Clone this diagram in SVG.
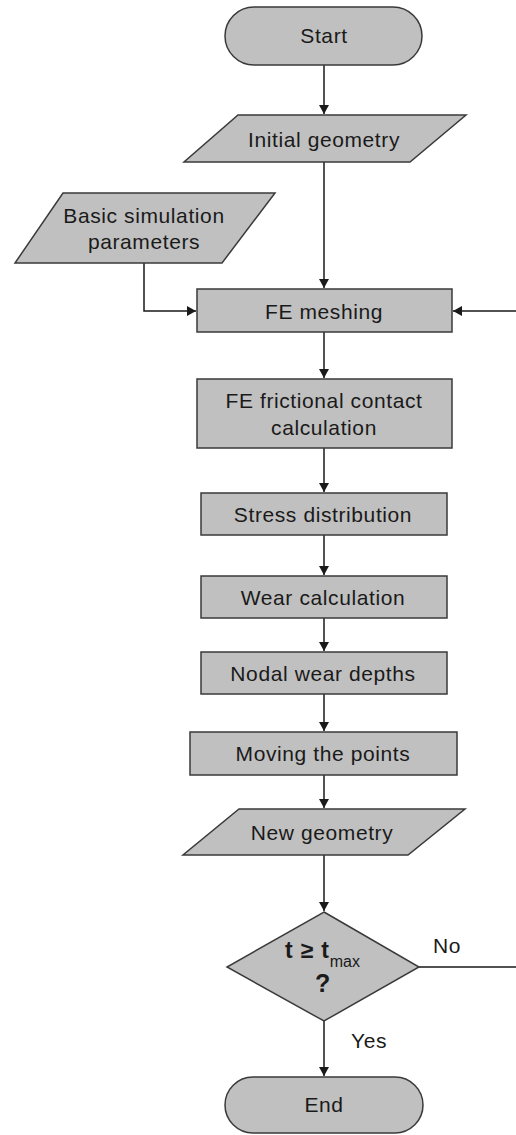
<svg xmlns="http://www.w3.org/2000/svg" width="516" height="1135" viewBox="0 0 516 1135">
<style>
.s{fill:#c0c0c0;stroke:#3a3a3a;stroke-width:1.5}
.t{font-family:"Liberation Sans",Arial,sans-serif;font-size:21px;fill:#1a1a1a;text-anchor:middle;letter-spacing:0.6px}
.c{fill:none;stroke:#1a1a1a;stroke-width:1.5}
.b{font-weight:bold;letter-spacing:0.8px}
</style>
<defs>
<marker id="ah" markerUnits="userSpaceOnUse" markerWidth="9" markerHeight="10" refX="9" refY="5" orient="auto">
<path d="M0,0 L9,5 L0,10 z" fill="#1a1a1a"/>
</marker>
</defs>
<rect width="516" height="1135" fill="#ffffff"/>
<g id="connectors">
<path class="c" d="M324,65 V114" marker-end="url(#ah)"/>
<path class="c" d="M324,162 V288" marker-end="url(#ah)"/>
<path class="c" d="M144,263 V311 H196" marker-end="url(#ah)"/>
<path class="c" d="M419,967 H522 V311 H453" marker-end="url(#ah)"/>
<path class="c" d="M324,332 V378" marker-end="url(#ah)"/>
<path class="c" d="M324,448 V492" marker-end="url(#ah)"/>
<path class="c" d="M324,535 V575" marker-end="url(#ah)"/>
<path class="c" d="M324,618 V651" marker-end="url(#ah)"/>
<path class="c" d="M324,694 V731" marker-end="url(#ah)"/>
<path class="c" d="M324,775 V808" marker-end="url(#ah)"/>
<path class="c" d="M324,855 V911" marker-end="url(#ah)"/>
<path class="c" d="M324,1021 V1076" marker-end="url(#ah)"/>
<text class="t" x="447" y="953">No</text>
<text class="t" x="369" y="1048">Yes</text>
</g>
<g id="start">
<rect class="s" x="225" y="7" width="197" height="58" rx="29" ry="29"/>
<text class="t" x="324" y="43">Start</text>
</g>
<g id="initial-geometry">
<polygon class="s" points="238,115 466,115 410,162 184,162"/>
<text class="t" x="324" y="147">Initial geometry</text>
</g>
<g id="basic-params">
<polygon class="s" points="63,193 275,193 222,263 15,263"/>
<text class="t" x="144" y="223">Basic simulation</text>
<text class="t" x="144" y="249">parameters</text>
</g>
<g id="fe-meshing">
<rect class="s" x="197" y="289" width="255" height="43"/>
<text class="t" x="324" y="319">FE meshing</text>
</g>
<g id="fe-contact">
<rect class="s" x="197" y="379" width="255" height="69"/>
<text class="t" x="324" y="408">FE frictional contact</text>
<text class="t" x="324" y="435">calculation</text>
</g>
<g id="stress">
<rect class="s" x="201" y="493" width="246" height="42"/>
<text class="t" x="323" y="522">Stress distribution</text>
</g>
<g id="wear">
<rect class="s" x="201" y="576" width="246" height="42"/>
<text class="t" x="323" y="605">Wear calculation</text>
</g>
<g id="nodal">
<rect class="s" x="201" y="652" width="246" height="42"/>
<text class="t" x="323" y="681">Nodal wear depths</text>
</g>
<g id="moving">
<rect class="s" x="190" y="732" width="267" height="43"/>
<text class="t" x="323" y="761">Moving the points</text>
</g>
<g id="new-geometry">
<polygon class="s" points="239,809 465,809 408,855 183,855"/>
<text class="t" x="322" y="840">New geometry</text>
</g>
<g id="decision">
<polygon class="s" points="324,912 419,967 324,1021 227,967"/>
<text class="t b" x="285" y="958" style="text-anchor:start;font-size:23px">t ≥ t<tspan style="font-weight:normal;font-size:16px;letter-spacing:0" dy="9">max</tspan></text>
<text class="t b" x="323" y="992" style="font-size:25px">?</text>
</g>
<g id="end">
<rect class="s" x="225" y="1077" width="198" height="56" rx="28" ry="28"/>
<text class="t" x="324" y="1112">End</text>
</g>
</svg>
